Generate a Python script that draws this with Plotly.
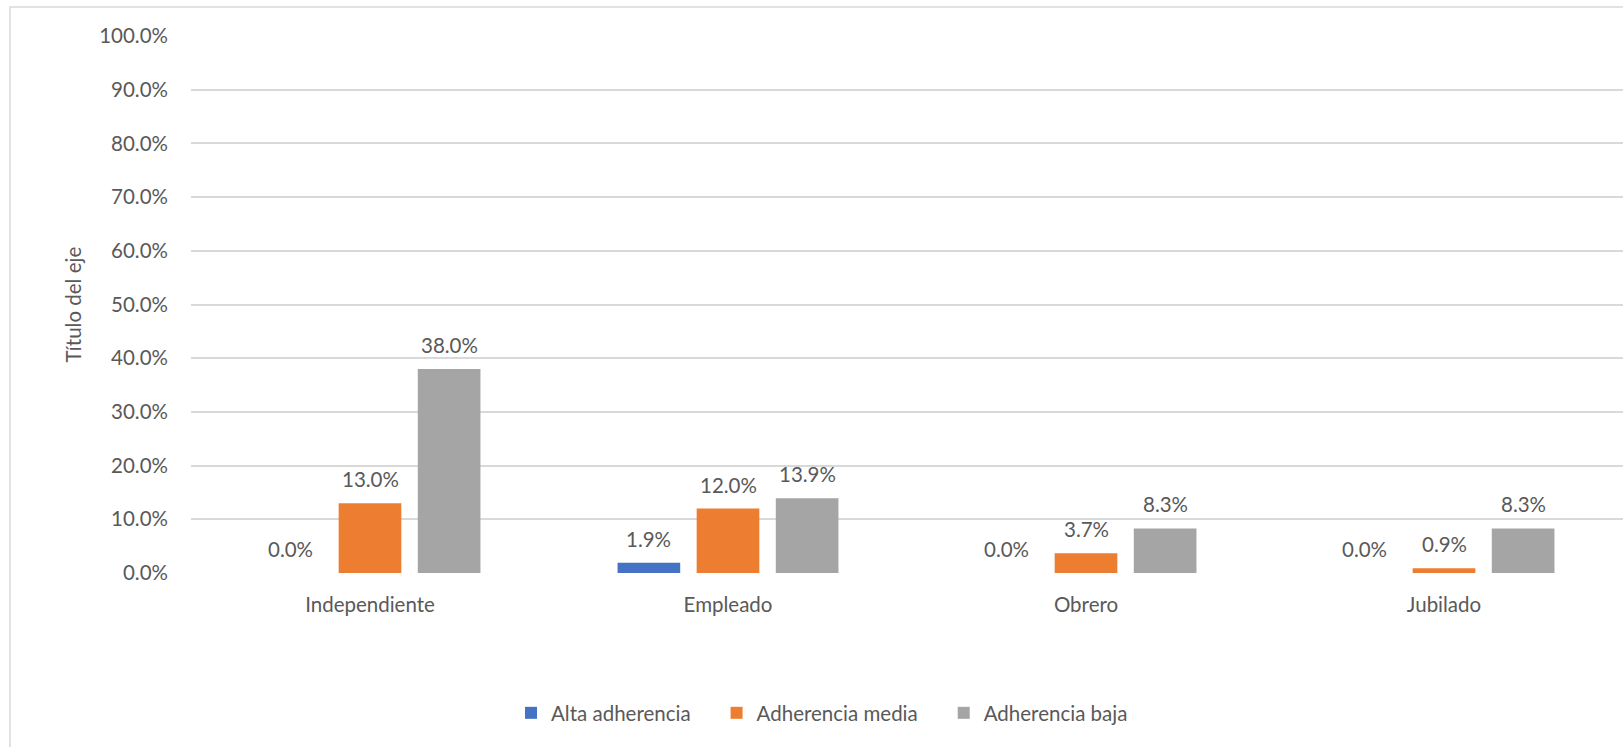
import plotly.graph_objects as go

# Occupation categories and adherence shares (fractions of the total)
categories = ["Independiente", "Empleado", "Obrero", "Jubilado"]
series_names = ["Alta adherencia", "Adherencia media", "Adherencia baja"]
alta = [0.000, 0.019, 0.000, 0.000]
media = [0.130, 0.120, 0.037, 0.009]
baja = [0.380, 0.139, 0.083, 0.083]
y_ticks = [0.0, 0.1, 0.2, 0.3, 0.4, 0.5, 0.6, 0.7, 0.8, 0.9, 1.0]

colors = ["#4472C4", "#ED7D31", "#A5A5A5"]
text_color = "#595959"
grid_color = "#D9D9D9"
font_family = "Lato, 'Open Sans', sans-serif"

W, H = 1623, 747
M_L, M_R, M_T, M_B = 191, 0, 36, 174
plot_w = W - M_L - M_R
plot_h = H - M_T - M_B

BARGAP = 0.337
GROUPGAP = 0.208

fig = go.Figure()
all_series = [alta, media, baja]
for i, (name, vals, col) in enumerate(zip(series_names, all_series, colors)):
    # non-breaking spaces widen the gap between legend entries
    pad = "\u00a0" * 4 if i < len(series_names) - 1 else ""
    fig.add_trace(go.Bar(
        x=categories, y=vals, name=name + pad,
        marker=dict(color=col, line=dict(width=0)),
        hoverinfo="skip",
    ))

# Value labels above each bar, offset to the bar's slot inside its group
cat_w = plot_w / len(categories)
slot_w = cat_w * (1 - BARGAP) / len(all_series)
annotations = []
for si, vals in enumerate(all_series):
    dx = (si - (len(all_series) - 1) / 2) * slot_w
    for c, v in zip(categories, vals):
        annotations.append(dict(
            x=c, y=v, xref="x", yref="y", text=f"{v * 100:.1f}%",
            showarrow=False, xanchor="center", yanchor="middle",
            xshift=dx, yshift=24,
            font=dict(family=font_family, size=20.5, color=text_color),
        ))

# Axis title
annotations.append(dict(
    x=(72 - M_L) / plot_w, y=0.5, xref="paper", yref="paper",
    text="Título del eje", textangle=-90, showarrow=False,
    xanchor="center", yanchor="middle",
    font=dict(family=font_family, size=20.5, color=text_color),
))

fig.update_layout(
    width=W, height=H,
    margin=dict(l=M_L, r=M_R, t=M_T, b=M_B, autoexpand=False),
    paper_bgcolor="white", plot_bgcolor="white",
    barmode="group", bargap=BARGAP, bargroupgap=GROUPGAP,
    font=dict(family=font_family, color=text_color, size=20.5),
    showlegend=True,
    legend=dict(
        orientation="h", x=(822 - M_L) / plot_w, xanchor="center",
        y=(M_T + plot_h - 713) / plot_h, yanchor="middle",
        font=dict(family=font_family, size=20.5, color=text_color),
        itemwidth=30, traceorder="normal", bgcolor="rgba(0,0,0,0)",
    ),
    annotations=annotations,
    shapes=[dict(
        type="rect", xref="paper", yref="paper", layer="below",
        x0=(10 - M_L) / plot_w, x1=1.2,
        y0=-1.0, y1=1 + (M_T - 7) / plot_h,
        line=dict(color=grid_color, width=1.5), fillcolor="rgba(0,0,0,0)",
    )],
)

fig.update_xaxes(
    type="category", showline=False, showgrid=False, zeroline=False,
    ticks="", ticklabelstandoff=17,
    tickfont=dict(family=font_family, size=20.5, color=text_color),
)
fig.update_yaxes(
    range=[0, 1.0], tickvals=y_ticks, tickformat=".1%",
    showgrid=True, gridcolor=grid_color, gridwidth=1.6,
    zeroline=False, showline=False, ticks="", ticklabelstandoff=22,
    tickfont=dict(family=font_family, size=20.5, color=text_color),
)

fig.write_html("out.html")
